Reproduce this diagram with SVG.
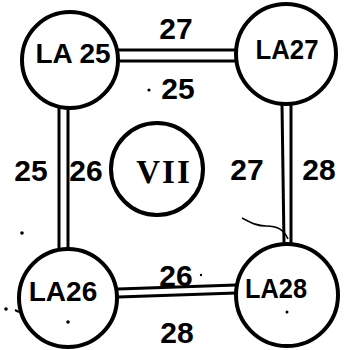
<svg xmlns="http://www.w3.org/2000/svg" width="354" height="350" viewBox="0 0 354 350">
  <style>
    .ring { fill: none; stroke: #000; stroke-width: 4; }
    .rail { stroke: #000; stroke-width: 3; fill: none; }
    .name { font-family: "Liberation Sans", Arial, sans-serif; font-weight: bold; font-size: 28px; fill: #000; text-anchor: middle; }
    .num { font-family: "Liberation Sans", Arial, sans-serif; font-weight: bold; font-size: 30px; fill: #000; text-anchor: middle; }
    .roman { font-family: "Liberation Serif", "Times New Roman", serif; font-weight: bold; font-size: 33px; fill: #000; text-anchor: middle; letter-spacing: 2px; }
    .speck { fill: #000; }
  </style>
  <rect width="354" height="350" fill="#fff"/>

  <!-- double-line links between the four stations -->
  <g id="connectors">
    <line class="rail" x1="118" y1="50" x2="238" y2="50"/>
    <line class="rail" x1="118" y1="61" x2="238" y2="61"/>
    <line class="rail" x1="59" y1="107" x2="59" y2="248"/>
    <line class="rail" x1="68" y1="107" x2="68" y2="248"/>
    <line class="rail" x1="282" y1="104" x2="284" y2="244"/>
    <line class="rail" x1="291" y1="104" x2="291" y2="244"/>
    <line class="rail" x1="118" y1="289" x2="236" y2="285"/>
    <line class="rail" x1="118" y1="297" x2="236" y2="293"/>
    <path d="M242 218 C250 222 256 226 266 226 C278 226 284 230 288 239" fill="none" stroke="#000" stroke-width="1.6"/>
  </g>

  <!-- link labels -->
  <g id="labels">
    <text class="num" x="176" y="39">27</text>
    <text class="num" x="178" y="99">25</text>
    <circle class="speck" cx="149" cy="90" r="1.6"/>
    <text class="num" x="31" y="181">25</text>
    <text class="num" x="86" y="181">26</text>
    <text class="num" x="247" y="180">27</text>
    <text class="num" x="319" y="180">28</text>
    <text class="num" x="176" y="286">26</text>
    <circle class="speck" cx="201" cy="275" r="1.2"/>
    <text class="num" x="177" y="343">28</text>
  </g>

  <g id="LA25">
    <circle class="ring" cx="70" cy="60" r="48"/>
    <text class="name" x="73" y="63">LA 25</text>
  </g>

  <g id="LA27">
    <circle class="ring" cx="286" cy="54" r="50"/>
    <text class="name" x="287" y="59" textLength="63" lengthAdjust="spacingAndGlyphs">LA27</text>
  </g>

  <g id="LA26">
    <circle class="ring" cx="68" cy="298" r="49"/>
    <text class="name" x="63" y="301">LA26</text>
    <circle class="speck" cx="68" cy="322" r="1.8"/>
  </g>

  <g id="LA28">
    <circle class="ring" cx="287" cy="295" r="51"/>
    <text class="name" x="276" y="298" textLength="62" lengthAdjust="spacingAndGlyphs">LA28</text>
    <circle class="speck" cx="287" cy="312" r="1.5"/>
  </g>

  <g id="VII">
    <circle class="ring" cx="157" cy="169" r="46"/>
    <text class="roman" x="164" y="183">VII</text>
  </g>

  <!-- stray marks -->
  <circle class="speck" cx="22" cy="233" r="1.8"/>
  <circle class="speck" cx="6" cy="309" r="1.8"/>
  <path d="M15 310 L19 312" stroke="#000" stroke-width="2"/>
</svg>
